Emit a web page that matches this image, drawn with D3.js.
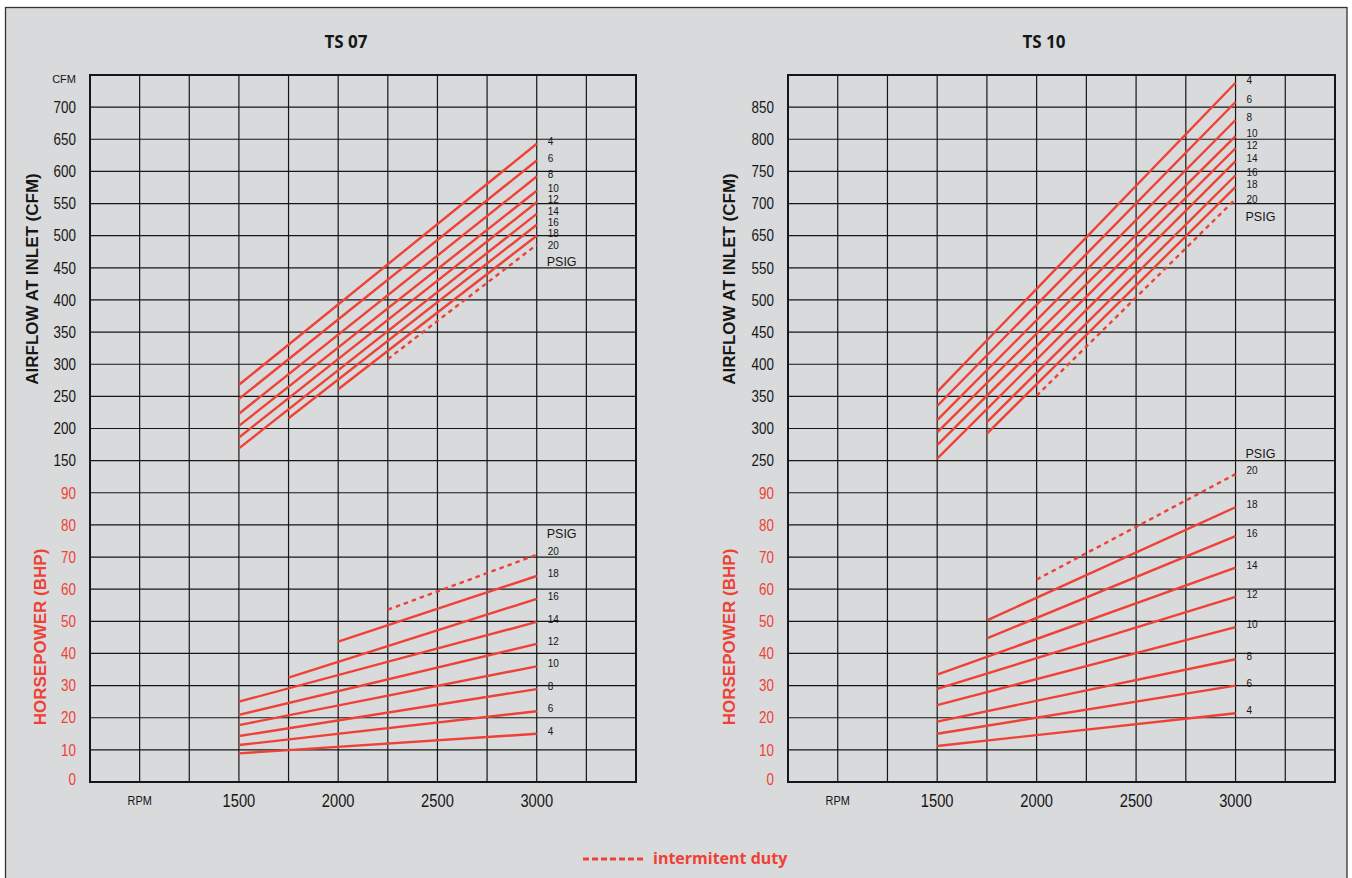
<!DOCTYPE html>
<html>
<head>
<meta charset="utf-8">
<script src="https://cdn.jsdelivr.net/npm/d3@7"></script>
<style>
  body { margin: 0; background: #fff; }
  svg { display: block; }
  .plain { font-family: "Liberation Sans", Arial, sans-serif; }
  .title { font-family: "Open Sans", "Noto Sans", sans-serif; font-weight: 700; }
</style>
</head>
<body>
<svg id="chart" width="1352" height="878"></svg>
<script>
// pressure curves, top to bottom (psig)
const psig = [4, 6, 8, 10, 12, 14, 16, 18, 20];
const intermittentPsig = 20;
const endRpm = 3000;

// TS 07
const ts07StartRpm = [1500, 1500, 1500, 1500, 1500, 1500, 1750, 2000, 2250];
const ts07CfmStart = [268, 246, 223, 204, 186, 169, 216, 261, 308];
const ts07CfmEnd = [643, 617, 592, 570, 552, 534, 517, 500, 486];
const ts07HpStart = [8.9, 11.5, 14.3, 17.7, 20.9, 25.0, 32.5, 43.7, 53.6];
const ts07HpEnd = [15.0, 22.0, 28.9, 36.0, 43.0, 49.8, 57.0, 64.1, 70.7];

// TS 10
const ts10StartRpm = [1500, 1500, 1500, 1500, 1500, 1500, 1750, 1750, 2000];
const ts10CfmStart = [357, 335, 313, 294, 274, 253, 310, 292, 351];
const ts10CfmEnd = [888, 858, 830, 805, 786, 766, 744, 726, 707];
const ts10HpStart = [11.2, 15.0, 18.8, 23.9, 29.0, 33.4, 44.7, 50.3, 63.0];
const ts10HpEnd = [21.4, 30.0, 38.2, 48.2, 57.6, 66.7, 76.5, 85.5, 95.8];

// axes
const rpmGrid = [750, 1000, 1250, 1500, 1750, 2000, 2250, 2500, 2750, 3000, 3250, 3500];
const rpmTicks = [1500, 2000, 2500, 3000];
const rpmLabelAt = 1000;
const hpTicks = [0, 10, 20, 30, 40, 50, 60, 70, 80, 90];
const ts07CfmTicks = [150, 200, 250, 300, 350, 400, 450, 500, 550, 600, 650, 700];
const ts10CfmTicks = [250, 300, 350, 400, 450, 500, 550, 650, 700, 750, 800, 850];
const rows = d3.range(0, 23);

const RED = "#ef4136";
const INK = "#161616";
const TOP = 75, BOTTOM = 782;
const NARROW = 0.84; // squeeze Liberation Sans to an Arial Narrow look

const svg = d3.select("#chart");

// page background + frame
svg.append("rect").attr("width", 1352).attr("height", 878).attr("fill", "#fff");
svg.append("rect")
   .attr("x", 5.5).attr("y", 7.5).attr("width", 1341.5).attr("height", 880)
   .attr("fill", "#d9dadb").attr("stroke", "#333").attr("stroke-width", 1.3);

const panels = [
  {
    title: "TS 07", left: 90, right: 636,
    cfmDomain: [150, 750], cfmRows: [10, 22], cfmTicks: ts07CfmTicks, topLabel: "CFM",
    startRpm: ts07StartRpm, cfmStart: ts07CfmStart, cfmEnd: ts07CfmEnd,
    hpStart: ts07HpStart, hpEnd: ts07HpEnd,
    airTitleX: -52, hpTitleX: -44
  },
  {
    title: "TS 10", left: 788, right: 1335,
    cfmDomain: [250, 550, 650, 900], cfmRows: [10, 16, 17, 22], cfmTicks: ts10CfmTicks, topLabel: "",
    startRpm: ts10StartRpm, cfmStart: ts10CfmStart, cfmEnd: ts10CfmEnd,
    hpStart: ts10HpStart, hpEnd: ts10HpEnd,
    airTitleX: -53, hpTitleX: -53
  }
];

function narrowLabels(parent, data, opts) {
  parent.append("g").selectAll("text").data(data).enter().append("text")
    .attr("class", "plain")
    .attr("font-size", opts.size).attr("fill", opts.fill)
    .attr("text-anchor", opts.anchor).attr("dy", opts.dy || null)
    .attr("transform", d => `translate(${opts.x(d)},${opts.y(d)}) scale(${NARROW},1)`)
    .text(opts.text || (d => d));
}

function drawPanel(p) {
  const g = svg.append("g");
  const x = d3.scaleLinear().domain([750, 3500]).range([p.left, p.right]);
  const row = d3.scaleLinear().domain([0, 22]).range([BOTTOM, TOP]);
  const yHp = d3.scaleLinear().domain([0, 100]).range([row(0), row(10)]);
  const yCfm = d3.scaleLinear().domain(p.cfmDomain).range(p.cfmRows.map(row));

  // grid
  g.append("g").selectAll("line").data(rows).enter().append("line")
   .attr("x1", p.left).attr("x2", p.right)
   .attr("y1", d => row(d)).attr("y2", d => row(d))
   .attr("stroke", INK).attr("stroke-width", 1.2);
  g.append("g").selectAll("line").data(rpmGrid).enter().append("line")
   .attr("x1", d => x(d)).attr("x2", d => x(d))
   .attr("y1", TOP).attr("y2", BOTTOM)
   .attr("stroke", INK).attr("stroke-width", 1.2);
  g.append("rect")
   .attr("x", p.left).attr("y", TOP)
   .attr("width", p.right - p.left).attr("height", BOTTOM - TOP)
   .attr("fill", "none").attr("stroke", INK).attr("stroke-width", 2);

  // title
  g.append("text").attr("class", "title")
   .attr("x", p.left + 256).attr("y", 48)
   .attr("text-anchor", "middle").attr("font-size", 17).attr("fill", INK)
   .text(p.title);

  // y tick labels
  narrowLabels(g, p.cfmTicks, {
    size: 16, fill: INK, anchor: "end", dy: "0.36em",
    x: () => p.left - 14, y: d => yCfm(d)
  });
  narrowLabels(g, hpTicks, {
    size: 16, fill: RED, anchor: "end", dy: "0.36em",
    x: () => p.left - 14, y: d => yHp(d) - (d === 0 ? 3 : 0)
  });
  if (p.topLabel) {
    g.append("text").attr("class", "plain").attr("font-size", 11).attr("fill", INK)
     .attr("x", p.left - 14).attr("y", TOP + 4.5).attr("dy", "0.36em")
     .attr("text-anchor", "end").text(p.topLabel);
  }

  // x tick labels
  narrowLabels(g, rpmTicks, {
    size: 17.5, fill: INK, anchor: "middle",
    x: d => x(d), y: () => 807
  });
  narrowLabels(g, [rpmLabelAt], {
    size: 13, fill: INK, anchor: "middle",
    x: d => x(d), y: () => 805, text: () => "RPM"
  });

  // axis titles
  g.append("text").attr("class", "plain").attr("font-weight", 700)
   .attr("font-size", 17).attr("fill", INK).attr("text-anchor", "middle")
   .attr("transform", `translate(${p.left + p.airTitleX},279) rotate(-90)`)
   .text("AIRFLOW AT INLET (CFM)");
  g.append("text").attr("class", "plain").attr("font-weight", 700)
   .attr("font-size", 17).attr("fill", RED).attr("text-anchor", "middle")
   .attr("transform", `translate(${p.left + p.hpTitleX},637) rotate(-90)`)
   .text("HORSEPOWER (BHP)");

  // curves
  const line = d3.line().x(d => x(d.rpm)).y(d => d.y);
  const groups = [
    { y: yCfm, start: p.cfmStart, end: p.cfmEnd, psigDy: 17, lastDy: 3 },
    { y: yHp, start: p.hpStart, end: p.hpEnd, psigDy: -21, lastDy: -1 }
  ];
  groups.forEach(s => {
    const series = psig.map((ps, i) => ({
      psig: ps,
      pts: [
        { rpm: p.startRpm[i], y: s.y(s.start[i]) },
        { rpm: endRpm, y: s.y(s.end[i]) }
      ]
    }));
    g.append("g").selectAll("path").data(series).enter().append("path")
     .attr("d", d => line(d.pts))
     .attr("fill", "none").attr("stroke", RED).attr("stroke-width", 2.4)
     .attr("stroke-dasharray", d => d.psig === intermittentPsig ? "4.5,4" : null);

    g.append("g").selectAll("text").data(series).enter().append("text")
     .attr("class", "plain").attr("font-size", 10).attr("fill", INK)
     .attr("x", x(endRpm) + 11)
     .attr("y", d => d.pts[1].y - 2.5 + (d.psig === intermittentPsig ? s.lastDy : 0))
     .attr("dy", "0.36em")
     .text(d => d.psig);

    const last = series[series.length - 1];
    g.append("text").attr("class", "plain").attr("font-size", 12.5).attr("fill", INK)
     .attr("x", x(endRpm) + 10).attr("y", last.pts[1].y + s.psigDy).attr("dy", "0.36em")
     .text("PSIG");
  });
}

panels.forEach(drawPanel);

// legend
const legend = svg.append("g");
legend.append("line")
  .attr("x1", 583).attr("x2", 643).attr("y1", 859).attr("y2", 859)
  .attr("stroke", RED).attr("stroke-width", 3).attr("stroke-dasharray", "6,3");
legend.append("text").attr("class", "title")
  .attr("x", 653).attr("y", 864).attr("font-size", 16).attr("fill", RED)
  .text("intermitent duty");
</script>
</body>
</html>
